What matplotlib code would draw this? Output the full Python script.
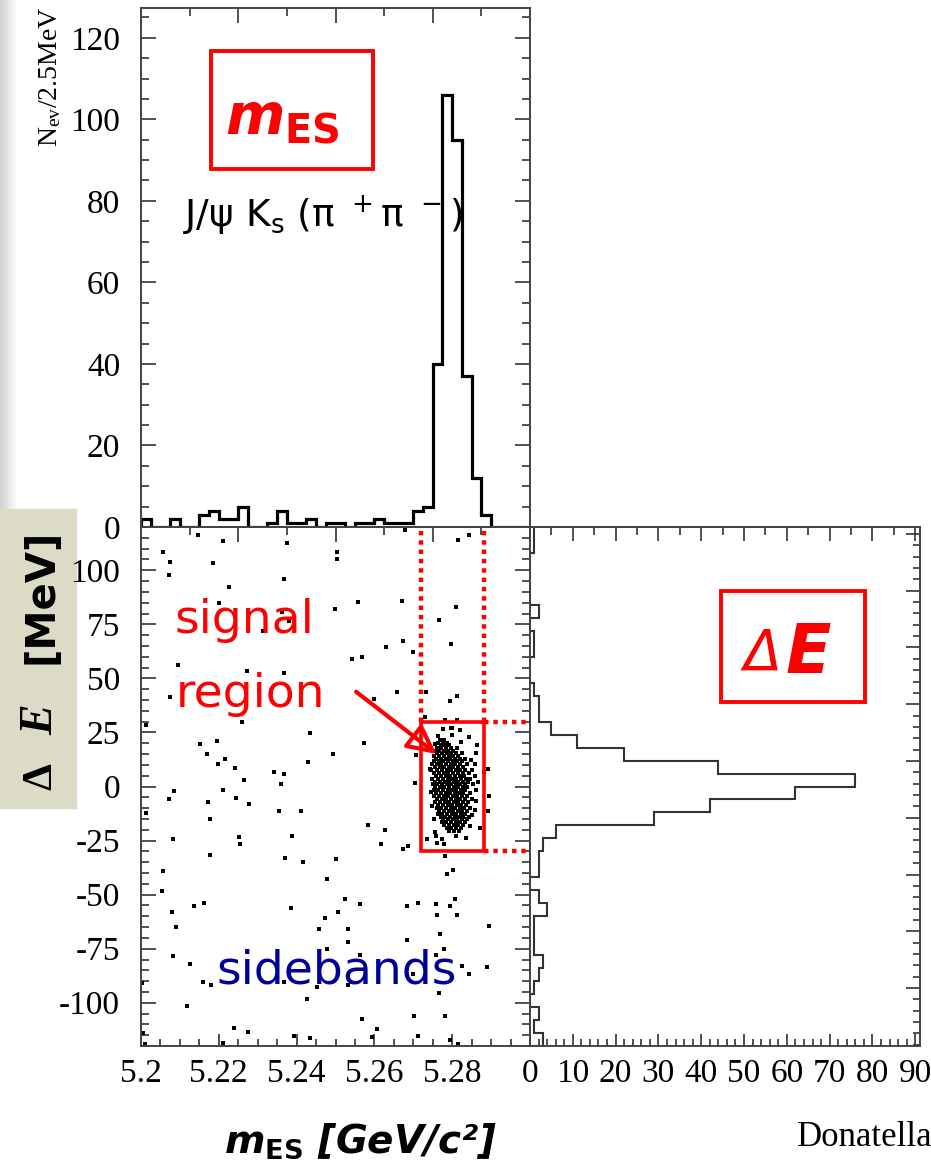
import numpy as np
import matplotlib
matplotlib.use("Agg")
import matplotlib.pyplot as plt
from matplotlib.patches import Rectangle, FancyArrowPatch
from matplotlib.ticker import MultipleLocator, FixedLocator

plt.rcParams['font.family'] = ['Liberation Serif', 'DejaVu Serif']
plt.rcParams['axes.unicode_minus'] = False
plt.rcParams['mathtext.fontset'] = 'custom'
plt.rcParams['mathtext.rm'] = 'DejaVu Sans:bold'
plt.rcParams['mathtext.it'] = 'DejaVu Sans:bold:italic'
plt.rcParams['mathtext.bf'] = 'DejaVu Sans:bold'

# ---------------- data ----------------
# m_ES histogram, 2.5 MeV bins from 5.20 to 5.30 GeV
mes_counts = [2, 0, 0, 2, 0, 0, 3, 4, 2, 2,
              5, 0, 0, 1, 4, 1, 1, 2, 0, 1,
              1, 0, 1, 1, 2, 1, 1, 1, 4, 5,
              40, 106, 95, 37, 12, 3, 0, 0, 0, 0]
mes_range = (5.2, 5.3)

# Delta E histogram, 6 MeV bins from -120 to +120 MeV
de_counts = [3, 1, 2, 0, 1, 2, 3, 1, 1, 1,
             4, 2, 0, 2, 2, 3, 6, 29, 42, 62,
             76, 44, 22, 11, 5, 2, 2, 1, 0, 0,
             1, 1, 0, 2, 0, 0, 0, 0, 1, 1]
de_range = (-120.0, 120.0)

# scattered (background-like) candidates: m_ES [GeV], Delta E [MeV]
bkg_mes = [
    5.2146, 5.2211, 5.2375, 5.2057, 5.2075, 5.2185, 5.2071, 5.2367, 5.2225, 5.2201,
    5.2362, 5.2380, 5.2314, 5.2096, 5.2272, 5.2367, 5.2303, 5.2075, 5.2013, 5.2260,
    5.2435, 5.2151, 5.2195, 5.2170, 5.2217, 5.2197, 5.2242, 5.2429, 5.2494, 5.2343,
    5.2367, 5.2264, 5.2361,
    5.2086, 5.2210, 5.2072, 5.2172, 5.2243, 5.2278, 5.2013, 5.2177, 5.2355, 5.2411,
    5.2081, 5.2253, 5.2255, 5.2387, 5.2177, 5.2369, 5.2417, 5.2502, 5.2057, 5.2479,
    5.2054, 5.2080, 5.2135, 5.2161, 5.2386, 5.2090, 5.2473, 5.2458, 5.2478, 5.2081,
    5.2127, 5.2003, 5.2159, 5.2180, 5.2368, 5.2453, 5.2427, 5.2118, 5.2005, 5.2238,
    5.2274, 5.2393, 5.2435, 5.2211, 5.2011,
    5.2679, 5.2816, 5.2844, 5.2505, 5.2505, 5.2499, 5.2558, 5.2672, 5.2809, 5.2767,
    5.2674, 5.2630, 5.2698, 5.2796, 5.2568, 5.2542, 5.2657, 5.2733, 5.2599, 5.2812,
    5.2794, 5.2730, 5.2781, 5.2812, 5.2776, 5.2799, 5.2844, 5.2863, 5.2572, 5.2707,
    5.2891, 5.2859, 5.2882, 5.2704,
    5.2895, 5.2892, 5.2583, 5.2628, 5.2618, 5.2674, 5.2686, 5.2734, 5.2762, 5.2778,
    5.2755, 5.2835, 5.2871, 5.2781, 5.2803, 5.2786, 5.2524, 5.2563, 5.2507, 5.2683,
    5.2711, 5.2758, 5.2761, 5.2794, 5.2806, 5.2813, 5.2533, 5.2531, 5.2683, 5.2769,
    5.2780, 5.2895, 5.2563, 5.2758, 5.2824, 5.2844, 5.2889, 5.2700, 5.2533, 5.2767,
    5.2568, 5.2703, 5.2781, 5.2606, 5.2711, 5.2594, 5.2794, 5.2816,
]
bkg_de = [
    116.2, 113.4, 112.5, 108.5, 104.0, 103.2, 97.7, 95.8, 92.1, 85.0,
    80.7, 76.7, 71.7, 56.1, 53.2, 52.4, 44.8, 41.6, 28.5, 30.0,
    24.6, 19.8, 21.0, 15.0, 12.7, 10.4, 8.4, 11.2, 15.0, 6.5,
    5.6, 3.0, 1.3,
    -2.1, -1.7, -5.8, -7.1, -5.5, -8.2, -12.2, -15.0, -11.3, -11.5,
    -24.4, -23.3, -26.8, -23.1, -31.7, -33.2, -35.0, -33.7, -38.9, -42.6,
    -48.5, -57.9, -55.3, -53.7, -56.2, -65.0, -60.9, -66.1, -75.1, -78.5,
    -82.0, -90.8, -90.4, -91.9, -90.4, -92.7, -98.2, -101.3, -114.0, -111.7,
    -113.3, -115.6, -116.5, -118.4, -119.1,
    118.4, 113.8, 116.1, 108.5, 105.4, 82.2, 85.4, 85.6, 83.2, 77.1,
    67.4, 64.3, 62.2, 66.0, 59.9, 59.1, 43.9, 43.9, 40.5, 41.9,
    39.7, 32.0, 30.8, 30.8, 26.5, 26.9, 22.8, 19.2, 20.3, 14.6,
    8.2, 10.5, 6.8, 1.7,
    -4.3, -11.3, -17.8, -20.2, -26.8, -28.9, -27.6, -24.5, -26.1, -26.8,
    -21.0, -23.8, -19.1, -32.1, -38.8, -40.5, -52.2, -54.2, -58.2, -55.3,
    -53.7, -54.2, -59.2, -55.3, -52.2, -59.2, -66.1, -71.7, -71.1, -68.3,
    -75.1, -64.3, -77.7, -78.0, -82.9, -86.6, -83.3, -86.6, -91.7, -95.6,
    -107.7, -106.1, -106.1, -112.1, -115.3, -116.0, -117.2, -119.1,
]

# signal cluster, listed row by row in Delta E
sig_de_rows = [21.3, 20.2, 19.1, 17.8, 16.6, 15.4, 14.1, 12.9, 11.6, 10.2,
               9.0, 7.7, 6.3, 5.0, 3.6, 2.3, 1.0, -0.4, -1.7, -3.1,
               -4.4, -5.8, -7.1, -8.5, -9.8, -11.2, -12.5, -13.9, -15.2, -16.6,
               -17.9, -19.3, -20.6]
sig_mes_rows = [
    [5.2768, 5.2780],
    [5.2764, 5.2776, 5.2787],
    [5.2770, 5.2781, 5.2793],
    [5.2760, 5.2772, 5.2784, 5.2797, 5.2812],
    [5.2756, 5.2767, 5.2779, 5.2790, 5.2803],
    [5.2762, 5.2774, 5.2786, 5.2798, 5.2809, 5.2826],
    [5.2753, 5.2766, 5.2778, 5.2791, 5.2803, 5.2815],
    [5.2759, 5.2771, 5.2783, 5.2795, 5.2808, 5.2820, 5.2834],
    [5.2754, 5.2765, 5.2777, 5.2789, 5.2801, 5.2813, 5.2826],
    [5.2749, 5.2760, 5.2772, 5.2784, 5.2796, 5.2807, 5.2819, 5.2838],
    [5.2756, 5.2768, 5.2779, 5.2791, 5.2803, 5.2814, 5.2828],
    [5.2746, 5.2762, 5.2774, 5.2786, 5.2797, 5.2809, 5.2821, 5.2833, 5.2850],
    [5.2752, 5.2767, 5.2779, 5.2790, 5.2802, 5.2815, 5.2827, 5.2842],
    [5.2758, 5.2771, 5.2783, 5.2795, 5.2807, 5.2819, 5.2831, 5.2858],
    [5.2748, 5.2763, 5.2776, 5.2788, 5.2800, 5.2811, 5.2823, 5.2836, 5.2847],
    [5.2755, 5.2768, 5.2781, 5.2793, 5.2805, 5.2816, 5.2829, 5.2841],
    [5.2750, 5.2761, 5.2773, 5.2786, 5.2798, 5.2810, 5.2821, 5.2834, 5.2853],
    [5.2757, 5.2769, 5.2780, 5.2792, 5.2804, 5.2815, 5.2827, 5.2839],
    [5.2752, 5.2764, 5.2776, 5.2788, 5.2799, 5.2811, 5.2822, 5.2833, 5.2860],
    [5.2759, 5.2771, 5.2783, 5.2795, 5.2806, 5.2818, 5.2829, 5.2845],
    [5.2754, 5.2766, 5.2778, 5.2790, 5.2801, 5.2813, 5.2825, 5.2837],
    [5.2761, 5.2773, 5.2785, 5.2797, 5.2809, 5.2820, 5.2832, 5.2851],
    [5.2757, 5.2769, 5.2781, 5.2793, 5.2804, 5.2816, 5.2828, 5.2840],
    [5.2764, 5.2776, 5.2788, 5.2800, 5.2812, 5.2823, 5.2835],
    [5.2760, 5.2772, 5.2784, 5.2796, 5.2807, 5.2819, 5.2831, 5.2846],
    [5.2767, 5.2779, 5.2791, 5.2803, 5.2814, 5.2826, 5.2838],
    [5.2763, 5.2775, 5.2787, 5.2799, 5.2810, 5.2822, 5.2834],
    [5.2770, 5.2782, 5.2794, 5.2806, 5.2817, 5.2829, 5.2843],
    [5.2777, 5.2789, 5.2801, 5.2813, 5.2825, 5.2837],
    [5.2773, 5.2785, 5.2797, 5.2809, 5.2821, 5.2833],
    [5.2780, 5.2792, 5.2804, 5.2816, 5.2828],
    [5.2786, 5.2798, 5.2810, 5.2822],
    [5.2793, 5.2805, 5.2817],
]
sig_extra_mes = [5.2744, 5.2746, 5.2749, 5.2752, 5.2848, 5.2862, 5.2866, 5.2852,
                 5.2845, 5.2763, 5.2800, 5.2822, 5.2758, 5.2775, 5.2797, 5.2820,
                 5.2860, 5.2858, 5.2757, 5.2811]
sig_extra_de = [8.1, -2.6, -9.0, -15.1, 12.4, -6.5, 1.9, -13.0,
                -18.4, 23.4, 23.9, 20.6, -22.9, -24.1, 27.1, 26.0,
                15.3, -10.9, 19.5, -23.0]

# selection windows
sig_mes_window = (5.272, 5.2882)
sig_de_window = (-30.0, 30.0)

mes_tick_labels = ['5.2', '5.22', '5.24', '5.26', '5.28']
mes_tick_values = [5.20, 5.22, 5.24, 5.26, 5.28]

# ---------------- figure ----------------
W, H = 931, 1169
fig = plt.figure(figsize=(W / 100, H / 100), dpi=100)


def fx(x):
    return x / W


def fy(y):
    return 1 - y / H


# slide decorations on the left edge
ax_bg = fig.add_axes([0, fy(509), fx(18), fy(0) - fy(509)])
ax_bg.imshow(np.linspace(0.82, 1.0, 64)[None, :], cmap='gray', vmin=0, vmax=1,
             aspect='auto', extent=(0, 1, 0, 1))
ax_bg.axis('off')
fig.add_artist(Rectangle((0, fy(808)), fx(76), fy(509) - fy(808),
                         transform=fig.transFigure, color='#dcdcc6', zorder=0))

L, R1, R2 = 141, 530, 920
T1, T2, B2 = 8, 527, 1046
ax_m = fig.add_axes([fx(L), fy(T2), fx(R1) - fx(L), fy(T1) - fy(T2)])
ax_s = fig.add_axes([fx(L), fy(B2), fx(R1) - fx(L), fy(T2) - fy(B2)])
ax_d = fig.add_axes([fx(R1), fy(B2), fx(R2) - fx(R1), fy(T2) - fy(B2)])

spine_c = '#444444'
for ax in (ax_m, ax_s, ax_d):
    for sp in ax.spines.values():
        sp.set_color(spine_c)
        sp.set_linewidth(1.4)

LABEL_SIZE = 24
tick_kw = dict(direction='in', color='#333333', width=1.2, labelsize=LABEL_SIZE)

# ---- m_ES histogram ----
mes_edges = np.linspace(mes_range[0], mes_range[1], len(mes_counts) + 1)
ax_m.stairs(mes_counts, mes_edges, color='black', lw=2.3, baseline=0)
ax_m.set_xlim(*mes_range)
ax_m.set_ylim(0, 127.3)
ax_m.yaxis.set_major_locator(MultipleLocator(20))
ax_m.yaxis.set_minor_locator(MultipleLocator(5))
ax_m.tick_params(axis='y', which='both', left=True, right=True, pad=15, **tick_kw)
ax_m.tick_params(axis='y', which='major', length=11)
ax_m.tick_params(axis='y', which='minor', length=5.5)
ax_m.xaxis.set_major_locator(FixedLocator([5.225, 5.25, 5.275]))
ax_m.xaxis.set_minor_locator(FixedLocator([5.2125, 5.2375, 5.2625, 5.2875]))
ax_m.tick_params(axis='x', which='both', bottom=False, top=True,
                 labelbottom=False, labeltop=False, **tick_kw)
ax_m.tick_params(axis='x', which='major', length=11)
ax_m.tick_params(axis='x', which='minor', length=5.5)

# ---- scatter ----
ax_s.plot(bkg_mes, bkg_de, 's', ms=2.9, mew=0, color='black', zorder=2)
sig_mes = [m for row in sig_mes_rows for m in row]
sig_de = [d for d, row in zip(sig_de_rows, sig_mes_rows) for _ in row]
ax_s.plot(sig_mes + sig_extra_mes, sig_de + sig_extra_de, 's', ms=2.9, mew=0,
          color='black', zorder=2)
ax_s.set_xlim(*mes_range)
ax_s.set_ylim(*de_range)
ax_s.set_xticks(mes_tick_values, labels=mes_tick_labels)
ax_s.xaxis.set_minor_locator(MultipleLocator(0.005))
ax_s.tick_params(axis='x', which='both', bottom=True, top=False, pad=9, **tick_kw)
ax_s.tick_params(axis='x', which='major', length=9)
ax_s.tick_params(axis='x', which='minor', length=5)
ax_s.yaxis.set_major_locator(MultipleLocator(25))
ax_s.yaxis.set_minor_locator(MultipleLocator(5))
ax_s.tick_params(axis='y', which='both', left=True, right=True, pad=15, **tick_kw)
ax_s.tick_params(axis='y', which='major', length=11)
ax_s.tick_params(axis='y', which='minor', length=5.5)
sec = ax_s.secondary_xaxis('top')
sec.xaxis.set_major_locator(FixedLocator([5.225, 5.25, 5.275]))
sec.xaxis.set_minor_locator(FixedLocator([5.2125, 5.2375, 5.2625, 5.2875]))
sec.tick_params(axis='x', which='both', labeltop=False, direction='in',
                color='#333333', width=1.2)
sec.tick_params(axis='x', which='major', length=11)
sec.tick_params(axis='x', which='minor', length=5.5)
sec.spines['top'].set_color(spine_c)
sec.spines['top'].set_linewidth(1.4)

# signal box and sideband guides
red = '#ff0000'
x0, x1 = sig_mes_window
y0, y1 = sig_de_window
ax_s.add_patch(Rectangle((x0, y0), x1 - x0, y1 - y0, fill=False, ec=red,
                         lw=2.6, zorder=4))
dot_kw = dict(color=red, lw=3.2, linestyle=(0, (1, 1.1)), dash_capstyle='butt',
              zorder=4)
ax_s.plot([x0, x0], [y1, 118], **dot_kw)
ax_s.plot([x1, x1], [y1, 118], **dot_kw)
ax_s.plot([x1, 5.3006], [y1, y1], clip_on=False, **dot_kw)
ax_s.plot([x1, 5.3006], [y0, y0], clip_on=False, **dot_kw)
ax_s.add_patch(FancyArrowPatch((5.2553, 43.8), (5.2760, 15.0),
                               arrowstyle='-|>,head_length=0.8,head_width=0.4',
                               mutation_scale=22, lw=3, ec=red, fc='none',
                               shrinkA=0, shrinkB=0, zorder=5))

# ---- Delta E histogram ----
de_edges = np.linspace(de_range[0], de_range[1], len(de_counts) + 1)
ax_d.stairs(de_counts, de_edges, orientation='horizontal', color='#333333',
            lw=1.5, baseline=0)
ax_d.set_xlim(0, 91.1)
ax_d.set_ylim(*de_range)
ax_d.xaxis.set_major_locator(MultipleLocator(10))
ax_d.xaxis.set_minor_locator(MultipleLocator(2))
ax_d.tick_params(axis='x', which='both', bottom=True, top=False, pad=9, **tick_kw)
ax_d.tick_params(axis='x', which='major', length=9)
ax_d.tick_params(axis='x', which='minor', length=5)
right_major = 11.8 + 26.25 * np.arange(-4, 5)
right_minor = 11.8 + 5.25 * np.arange(-25, 21)
ax_d.yaxis.set_major_locator(FixedLocator(right_major))
ax_d.yaxis.set_minor_locator(FixedLocator(right_minor))
ax_d.tick_params(axis='y', which='both', left=False, right=True,
                 labelleft=False, labelright=False, **tick_kw)
ax_d.tick_params(axis='y', which='major', length=10)
ax_d.tick_params(axis='y', which='minor', length=5)
sec_d = ax_d.secondary_xaxis('top')
sec_d.xaxis.set_major_locator(MultipleLocator(10))
sec_d.xaxis.set_minor_locator(MultipleLocator(5))
sec_d.tick_params(axis='x', which='both', labeltop=False, direction='in',
                  color='#333333', width=1.2)
sec_d.tick_params(axis='x', which='major', length=10)
sec_d.tick_params(axis='x', which='minor', length=5.5)
sec_d.spines['top'].set_color(spine_c)
sec_d.spines['top'].set_linewidth(1.4)

# ---------------- texts ----------------
fig.text(fx(50), fy(77), r"N$\mathregular{_{ev}}$/2.5MeV", rotation=90,
         ha='center', va='center', fontsize=20, family='Liberation Serif')

fig.text(fx(41), fy(776), "Δ", rotation=90, ha='center', va='center',
         fontsize=31, family='Liberation Serif', weight='bold')
fig.text(fx(41), fy(720), "E", rotation=90, ha='center', va='center',
         fontsize=33, family='Liberation Serif', weight='bold', style='italic')
fig.text(fx(41), fy(596), "[MeV]", rotation=90, ha='center', va='center',
         fontsize=29, family='DejaVu Sans', weight='bold')

fig.text(fx(361), fy(1141), r"$m_{\rm ES}$ [GeV/c²]", ha='center', va='center',
         fontsize=28, family='DejaVu Sans', weight='bold', style='italic')
fig.text(fx(797), fy(1137), "Donatella", ha='left', va='center',
         fontsize=25, family='Liberation Serif')

# m_ES tag
fig.add_artist(Rectangle((fx(211), fy(169)), fx(373) - fx(211), fy(51) - fy(169),
                         transform=fig.transFigure, fill=False, ec=red, lw=2.8))
fig.text(fx(282), fy(134), r"$m_{\rm ES}$", color=red, fontsize=41,
         ha='center', va='baseline')
fig.text(fx(183), fy(227),
         r"J/ψ K$\mathregular{_s}$ (π $\mathregular{^+}$π $\mathregular{^-}$)",
         fontsize=27, family='DejaVu Sans', ha='left', va='baseline')

# Delta E tag
fig.add_artist(Rectangle((fx(721), fy(702)), fx(865) - fx(721), fy(591) - fy(702),
                         transform=fig.transFigure, fill=False, ec=red, lw=2.8))
fig.text(fx(744), fy(671), "Δ", color=red, fontsize=40, family='DejaVu Sans',
         style='italic', ha='left', va='baseline')
fig.text(fx(786), fy(673), "E", color=red, fontsize=48, family='DejaVu Sans',
         style='italic', weight='bold', ha='left', va='baseline')

fig.text(fx(174), fy(633), "signal", color=red, fontsize=34, family='DejaVu Sans',
         ha='left', va='baseline', zorder=6)
fig.text(fx(176), fy(707), "region", color=red, fontsize=34, family='DejaVu Sans',
         ha='left', va='baseline', zorder=6)
fig.text(fx(216), fy(983), "sidebands", color='#000099', fontsize=34,
         family='DejaVu Sans', ha='left', va='baseline', zorder=6)

fig.savefig("out.png", dpi=100)
